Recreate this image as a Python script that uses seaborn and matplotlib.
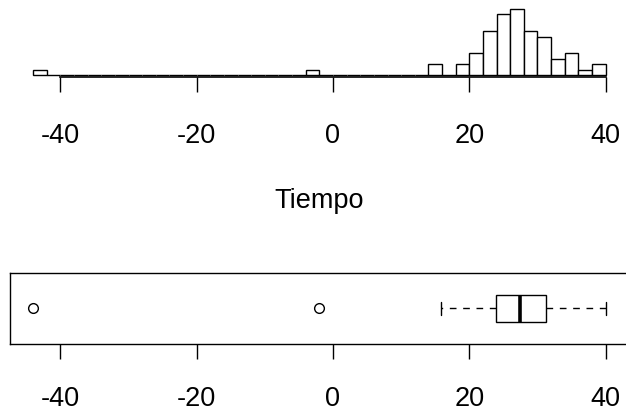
import matplotlib
matplotlib.use("Agg")
import matplotlib.pyplot as plt
import seaborn as sns

tiempo = [
    -44.0, -2.1,
    15.9, 15.95,
    18.6, 19.4,
    20.3, 20.8, 21.2, 21.7,
    22.2, 22.5, 22.8, 23.1, 23.4, 23.6, 23.9, 23.95,
    24.1, 24.3, 24.5, 24.7, 24.9, 25.1, 25.3, 25.5, 25.7, 25.8, 25.9,
    26.2, 26.6, 27.0, 27.3, 27.5, 27.6, 27.7, 27.8, 27.85, 27.9, 27.95, 27.98,
    28.2, 28.5, 28.8, 29.1, 29.3, 29.5, 29.7, 29.9,
    31.7, 31.75, 31.8, 31.85, 31.9, 31.95, 31.98,
    32.4, 33.0, 33.6,
    34.3, 34.8, 35.2, 35.7,
    37.0,
    38.9, 40.0,
]
x_ticks = [-40, -20, 0, 20, 40]
x_label = "Tiempo"

sns.set_style("white")
plt.rcParams["font.family"] = ["Liberation Sans", "DejaVu Sans"]
plt.rcParams["text.color"] = "black"
plt.rcParams["xtick.color"] = "black"
plt.rcParams["axes.labelcolor"] = "black"
plt.rcParams["axes.edgecolor"] = "black"

XLIM = (-47.36, 43.36)
FS = 19.5

fig = plt.figure(figsize=(6.26, 4.11), dpi=100)

# histogram (top)
ax_h = fig.add_axes([0.0163, 0.8117, 0.9877, 0.1733])
sns.histplot(x=tiempo, binwidth=2, binrange=(-44, 40), color="white",
             edgecolor="black", linewidth=1.0, alpha=1, ax=ax_h)
ax_h.set_xlim(*XLIM)
ax_h.set_ylim(-0.35, 12.48)
for s in ["top", "left", "right"]:
    ax_h.spines[s].set_visible(False)
ax_h.spines["bottom"].set_bounds(-40, 40)
ax_h.spines["bottom"].set_linewidth(1.2)
ax_h.set_yticks([])
ax_h.set_ylabel("")
ax_h.set_xticks(x_ticks)
ax_h.set_xticklabels([str(t) for t in x_ticks])
ax_h.tick_params(axis="x", direction="out", length=11, width=1.0,
                 pad=22, labelsize=FS, bottom=True)
ax_h.set_xlabel(x_label, fontsize=FS, labelpad=28)

# boxplot (bottom)
ax_b = fig.add_axes([0.0163, 0.1623, 0.9877, 0.1742])
sns.boxplot(x=tiempo, width=0.4, color="white", linecolor="black",
            linewidth=1.0, ax=ax_b,
            whiskerprops={"linestyle": (0, (4.8, 4.8))},
            medianprops={"linewidth": 2.6},
            flierprops={"marker": "o", "markerfacecolor": "none",
                        "markeredgecolor": "black", "markersize": 7,
                        "markeredgewidth": 1.0})
ax_b.set_xlim(*XLIM)
ax_b.set_ylim(0.517, -0.517)
ax_b.set_yticks([])
for s in ax_b.spines.values():
    s.set_visible(True)
    s.set_linewidth(1.0)
    s.set_color("black")
ax_b.set_xticks(x_ticks)
ax_b.set_xticklabels([str(t) for t in x_ticks])
ax_b.tick_params(axis="x", direction="out", length=11, width=1.0,
                 pad=19, labelsize=FS, bottom=True)
ax_b.set_xlabel("")

fig.savefig("out.png", dpi=100)
